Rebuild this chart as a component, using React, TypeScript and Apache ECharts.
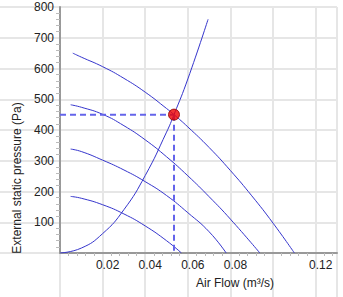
import React, { useEffect, useRef } from "react";
import * as echarts from "echarts";

// Fan performance curves: [air flow (m³/s), external static pressure (Pa)]
const fanCurve1: number[][] = [[0.006, 650], [0.01, 637], [0.02, 606], [0.03, 568], [0.04, 523], [0.05, 470], [0.0535, 450], [0.06, 410], [0.07, 343], [0.08, 268], [0.09, 186], [0.1, 97], [0.11, 0]];
const fanCurve2: number[][] = [[0.005, 482], [0.01, 474], [0.02, 451], [0.03, 414], [0.04, 368], [0.05, 313], [0.06, 251], [0.07, 183], [0.08, 110], [0.0938, 0]];
const fanCurve3: number[][] = [[0.005, 338], [0.01, 330], [0.02, 302], [0.03, 270], [0.04, 232], [0.05, 187], [0.06, 131], [0.07, 69], [0.078, 0]];
const fanCurve4: number[][] = [[0.005, 184], [0.01, 178], [0.02, 157], [0.03, 127], [0.04, 88], [0.05, 40], [0.057, 0]];
// System resistance curve
const systemCurve: number[][] = [[0, 0], [0.01, 16], [0.02, 63], [0.03, 141], [0.04, 252], [0.05, 393], [0.0535, 450], [0.06, 566], [0.0695, 760]];
// Operating point
const operatingPoint: number[] = [0.0535, 450];

const xMax = 0.13;
const xInterval = 0.02;
const yMax = 800;
const yInterval = 100;
const hiddenXLabels = ["0", "0.1", "0.13"];

const FONT = "Liberation Sans, Arial, sans-serif";
const curveColor = "#3535cc";
const gridColor = "#e6e6e6";

export default function App() {
  const ref = useRef<HTMLDivElement>(null);
  useEffect(() => {
    if (!ref.current) return;
    const chart = echarts.init(ref.current, undefined, { renderer: "svg" });
    const curveSeries = [fanCurve1, fanCurve2, fanCurve3, fanCurve4, systemCurve].map((d) => ({
      type: "line",
      data: d,
      smooth: true,
      showSymbol: false,
      symbol: "none",
      lineStyle: { color: curveColor, width: 1 },
      silent: true,
      z: 3,
    }));
    chart.setOption({
      animation: false,
      grid: { left: 60, top: 7, right: 6, bottom: 44 },
      xAxis: [
        {
          type: "value",
          min: 0,
          max: xMax,
          interval: xInterval,
          axisLine: { show: true, onZero: false, lineStyle: { color: "#999", width: 2 } },
          axisTick: { show: false },
          minorTick: { show: true, splitNumber: 5, length: 3, lineStyle: { color: "#bbb" } },
          splitLine: { show: true, lineStyle: { color: gridColor, width: 2 } },
          axisLabel: {
            fontFamily: FONT,
            fontSize: 12,
            color: "#222",
            margin: 6,
            padding: [0, 0, 0, 10],
            showMaxLabel: false,
            formatter: (v: number) => {
              const s = String(parseFloat(v.toFixed(4)));
              return hiddenXLabels.includes(s) ? "" : s;
            },
          },
          z: 2,
        },
        {
          type: "value",
          position: "bottom",
          min: 0,
          max: xMax,
          interval: xInterval,
          axisLine: { show: false },
          axisTick: { show: true, inside: false, length: 44, lineStyle: { color: gridColor, width: 2 } },
          axisLabel: { show: false },
          splitLine: { show: false },
          z: 0,
        },
      ],
      yAxis: [
        {
          type: "value",
          min: 0,
          max: yMax,
          interval: yInterval,
          axisLine: { show: true, onZero: false, lineStyle: { color: "#999", width: 2 } },
          axisTick: { show: false },
          minorTick: { show: true, splitNumber: 5, length: 4, lineStyle: { color: "#bbb" } },
          splitLine: { show: true, lineStyle: { color: gridColor, width: 2 } },
          axisLabel: {
            fontFamily: FONT,
            fontSize: 12,
            color: "#222",
            margin: 6,
            formatter: (v: number) => (v === 0 ? "" : String(v)),
          },
          z: 2,
        },
        {
          type: "value",
          position: "left",
          min: 0,
          max: yMax,
          interval: yInterval,
          axisLine: { show: false },
          axisTick: { show: true, inside: false, length: 60, lineStyle: { color: gridColor, width: 2 } },
          axisLabel: { show: false },
          splitLine: { show: false },
          z: 0,
        },
      ],
      graphic: [
        {
          type: "text",
          x: 17,
          y: 178,
          z: 100,
          rotation: Math.PI / 2,
          style: {
            text: "External static pressure (Pa)",
            fontFamily: FONT,
            fontSize: 12,
            fill: "#222",
            align: "center",
            verticalAlign: "middle",
          },
        },
        {
          type: "text",
          x: 235,
          y: 283,
          z: 100,
          style: {
            text: "Air Flow (m³/s)",
            fontFamily: FONT,
            fontSize: 12,
            fill: "#222",
            align: "center",
            verticalAlign: "middle",
          },
        },
      ],
      series: [
        ...curveSeries,
        {
          type: "line",
          data: [[0, operatingPoint[1]], operatingPoint],
          showSymbol: false,
          symbol: "none",
          lineStyle: { color: "#6464ea", width: 2, type: [6, 4] },
          z: 4,
        },
        {
          type: "line",
          data: [operatingPoint, [operatingPoint[0], 0]],
          showSymbol: false,
          symbol: "none",
          lineStyle: { color: "#6464ea", width: 2, type: [6, 4] },
          z: 4,
        },
        {
          type: "scatter",
          data: [operatingPoint],
          symbol: "circle",
          symbolSize: 11,
          itemStyle: { color: "#ee0000", borderColor: "#8a0000", borderWidth: 1 },
          z: 5,
        },
      ],
    });
    return () => chart.dispose();
  }, []);
  return (
    <div
      ref={ref}
      style={{ position: "fixed", left: 0, top: 0, width: 343, height: 297, background: "#fff" }}
    />
  );
}
